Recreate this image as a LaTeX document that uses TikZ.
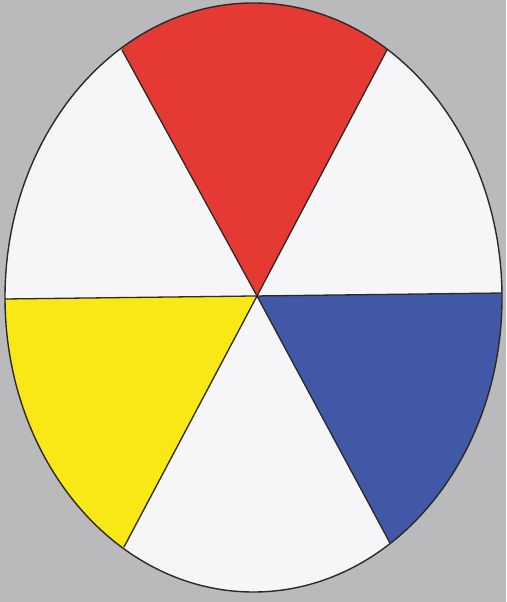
\documentclass[tikz,border=0pt]{standalone}
\usetikzlibrary{calc}
\definecolor{bggrey}{RGB}{186,186,189}
\definecolor{wheelred}{RGB}{229,58,52}
\definecolor{wheelyellow}{RGB}{247,232,22}
\definecolor{wheelblue}{RGB}{64,88,165}
\definecolor{wheelwhite}{RGB}{246,246,248}
\definecolor{edgecol}{RGB}{45,40,40}
\tikzset{
  spoke/.style={draw=edgecol, line width=1.3pt},
  rim/.style={draw=edgecol, line width=1.4pt}
}
\begin{document}
\begin{tikzpicture}[x=1pt,y=-1pt]
\useasboundingbox (0,0) rectangle (506,602);
\fill[bggrey] (0,0) rectangle (506,602);
\coordinate (c) at (257,296);
\coordinate (tl) at (122,50);
\coordinate (tr) at (388,48);
\coordinate (bl) at (124,547);
\coordinate (br) at (390,543);
\coordinate (ml) at (4,299);
\coordinate (mr) at (503,293);
\begin{scope}
  \clip (253.5,297.5) ellipse [x radius=248.5pt, y radius=294.5pt];
  \fill[wheelwhite] (-20,-20) rectangle (530,620);
  \fill[wheelred] (c) -- ($(c)!1.3!(tl)$) -- ($(c)!1.3!(tr)$) -- cycle;
  \fill[wheelyellow] (c) -- (-20,299.3) -- (-20,640) -- ($(c)!1.4!(bl)$) -- cycle;
  \fill[wheelblue] (c) -- (530,292.7) -- (530,640) -- ($(c)!1.4!(br)$) -- cycle;
  \draw[spoke] (ml) -- (mr);
  \draw[spoke] (c) -- (tl);
  \draw[spoke] (c) -- (tr);
  \draw[spoke] (c) -- (bl);
  \draw[spoke] (c) -- (br);
\end{scope}
\draw[rim] (253.5,297.5) ellipse [x radius=248.5pt, y radius=294.5pt];
\end{tikzpicture}
\end{document}
